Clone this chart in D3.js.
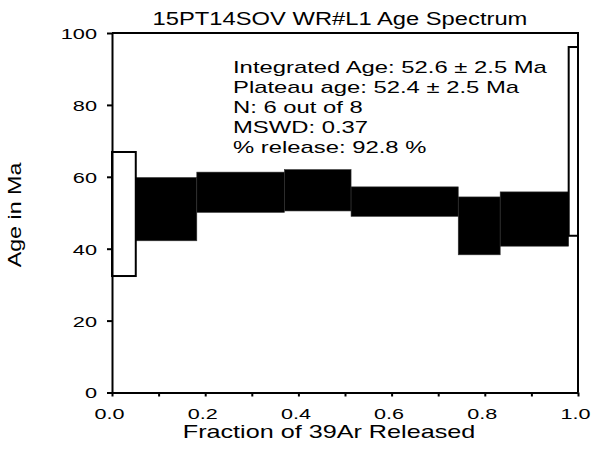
<!DOCTYPE html>
<html>
<head>
<meta charset="utf-8">
<script src="https://cdn.jsdelivr.net/npm/d3@7"></script>
<style>
  body { margin: 0; background: #fff; }
  text { font-family: "Liberation Sans", Arial, sans-serif; fill: #000; }
</style>
</head>
<body>
<div id="spectrum"></div>
<script>
// step edges along cumulative 39Ar fraction, and age limits (Ma) of each step
var fractionEdges = [0, 0.051, 0.182, 0.370, 0.513, 0.743, 0.833, 0.980, 1.0];
var ageHigh = [66.9, 59.8, 61.3, 62.0, 57.2, 54.4, 55.8, 96.1];
var ageLow  = [32.4, 42.2, 50.1, 50.5, 49.0, 38.3, 40.7, 43.6];
var inPlateau = [false, true, true, true, true, true, true, false];

var ageTicks = [0, 20, 40, 60, 80, 100];
var fractionTicks = [0, 0.1, 0.2, 0.3, 0.4, 0.5, 0.6, 0.7, 0.8, 0.9, 1.0];
var fractionLabels = [0, 0.2, 0.4, 0.6, 0.8, 1.0];

var titleText = "15PT14SOV WR#L1 Age Spectrum";
var xTitle = "Fraction of 39Ar Released";
var yTitle = "Age in Ma";
var notes = [
  "Integrated Age: 52.6 \u00b1 2.5 Ma",
  "Plateau age: 52.4 \u00b1 2.5 Ma",
  "N: 6 out of 8",
  "MSWD: 0.37",
  "% release: 92.8 %"
];

var W = 593, H = 451;
var svg = d3.select("#spectrum").append("svg")
  .attr("width", W).attr("height", H);

var x = d3.scaleLinear().domain([0, 1]).range([112, 578]);
var y = d3.scaleLinear().domain([0, 100]).range([392.5, 33]);

// build steps from the arrays
var steps = ageHigh.map(function(h, i) {
  return { x0: fractionEdges[i], x1: fractionEdges[i + 1], hi: h, lo: ageLow[i], plateau: inPlateau[i] };
});

var boxes = svg.append("g");
// plateau steps (filled) first, then open steps on top
boxes.selectAll("rect.fill")
  .data(steps.filter(function(d) { return d.plateau; }))
  .enter().append("rect")
  .attr("x", function(d) { return x(d.x0); })
  .attr("width", function(d) { return x(d.x1) - x(d.x0); })
  .attr("y", function(d) { return y(d.hi); })
  .attr("height", function(d) { return y(d.lo) - y(d.hi); })
  .attr("fill", "#000")
  .attr("stroke", "#333")
  .attr("stroke-width", 0.6);

boxes.selectAll("rect.open")
  .data(steps.filter(function(d) { return !d.plateau; }))
  .enter().append("rect")
  .attr("x", function(d) { return x(d.x0); })
  .attr("width", function(d) { return x(d.x1) - x(d.x0); })
  .attr("y", function(d) { return y(d.hi); })
  .attr("height", function(d) { return y(d.lo) - y(d.hi); })
  .attr("fill", "#fff")
  .attr("stroke", "#000")
  .attr("stroke-width", 2);

// frame on top and right
svg.append("path")
  .attr("d", "M" + x(0) + "," + y(100) + "H" + x(1) + "V" + y(0))
  .attr("fill", "none").attr("stroke", "#000").attr("stroke-width", 2);

// y axis
var sxTick = 1.45;
var yAxis = d3.axisLeft(y).tickValues(ageTicks).tickSize(5).tickSizeOuter(0)
  .tickFormat(d3.format("d"));
var gy = svg.append("g").attr("transform", "translate(" + x(0) + ",0)").call(yAxis);
gy.select(".domain").attr("stroke-width", 2);
gy.selectAll(".tick line").attr("stroke-width", 2);
gy.selectAll(".tick text")
  .attr("font-size", 15)
  .attr("x", -15 / sxTick)
  .attr("dy", "0.36em")
  .attr("transform", "scale(" + sxTick + ",1)");

// x axis
var xAxis = d3.axisBottom(x).tickValues(fractionTicks).tickSize(4).tickSizeOuter(0)
  .tickFormat(function(d) {
    return fractionLabels.some(function(v) { return Math.abs(v - d) < 1e-9; }) ? d3.format(".1f")(d) : "";
  });
var gx = svg.append("g").attr("transform", "translate(0," + y(0) + ")").call(xAxis);
gx.select(".domain").attr("stroke-width", 2);
gx.selectAll(".tick line").attr("stroke-width", 2);
gx.selectAll(".tick text")
  .attr("font-size", 15)
  .attr("x", -3 / 1.44)
  .attr("y", 26.5)
  .attr("dy", 0)
  .attr("transform", "scale(1.44,1)");
// drop the empty labels on minor ticks
gx.selectAll(".tick text").filter(function() { return this.textContent === ""; }).remove();

// stretched text helper
function label(px, py, str, size, sx, anchor, rot) {
  var g = svg.append("g")
    .attr("transform", "translate(" + px + "," + py + ")" + (rot ? " rotate(" + rot + ")" : "") + " scale(" + sx + ",1)");
  g.append("text").attr("font-size", size).attr("text-anchor", anchor).text(str);
}

label(340, 25, titleText, 18, 1.32, "middle");
label(329, 438, xTitle, 18, 1.4, "middle");
label(20.5, 215, yTitle, 17.5, 1.33, "middle", -90);

var noteBase = [73.3, 93.3, 113.3, 133.3, 152.8];
notes.forEach(function(t, i) {
  label(233, noteBase[i], t, 16, 1.49, "start");
});
</script>
</body>
</html>
